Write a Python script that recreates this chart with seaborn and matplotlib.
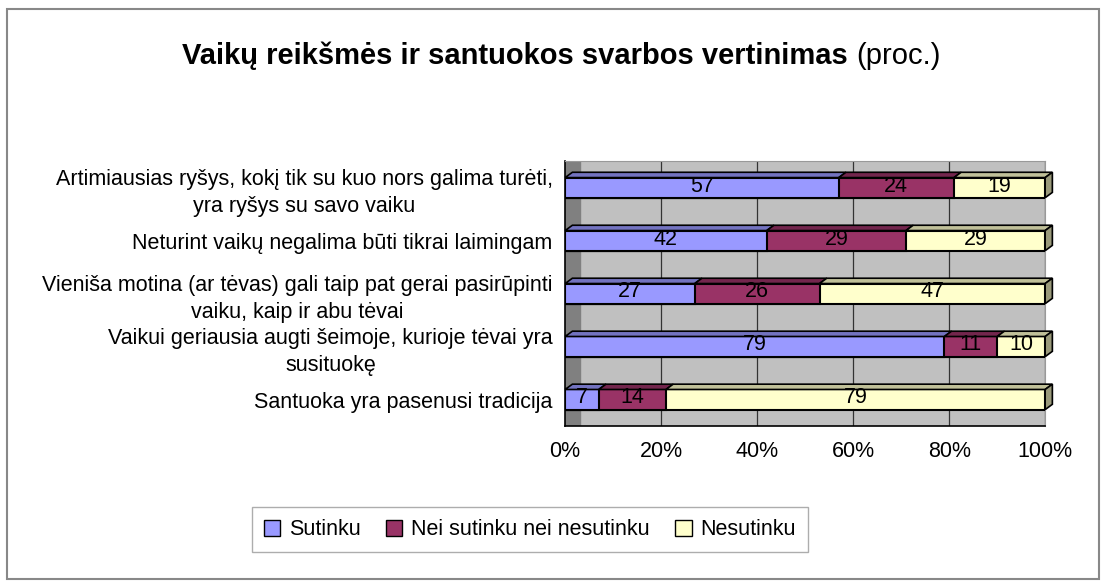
import pandas as pd
import matplotlib.pyplot as plt
import matplotlib.patches as mpatches
import seaborn as sns

statements = [
    "Artimiausias ryšys, kokį tik su kuo nors galima turėti,\nyra ryšys su savo vaiku",
    "Neturint vaikų negalima būti tikrai laimingam",
    "Vieniša motina (ar tėvas) gali taip pat gerai pasirūpinti\nvaiku, kaip ir abu tėvai",
    "Vaikui geriausia augti šeimoje, kurioje tėvai yra\nsusituokę",
    "Santuoka yra pasenusi tradicija",
]
sutinku = [57, 42, 27, 79, 7]
nei = [24, 29, 26, 11, 14]
nesutinku = [19, 29, 47, 10, 79]
series_names = ["Sutinku", "Nei sutinku nei nesutinku", "Nesutinku"]
colors = ["#9999FF", "#993366", "#FFFFCC"]
top_colors = ["#7373C0", "#73264D", "#C0C099"]
xticks = [0, 20, 40, 60, 80, 100]

df = pd.DataFrame({"statement": statements, "Sutinku": sutinku,
                   "Nei": nei, "Nesutinku": nesutinku})
df["c1"] = df["Sutinku"]
df["c2"] = df["Sutinku"] + df["Nei"]
df["c3"] = df["c2"] + df["Nesutinku"]

sns.set_style("white")
plt.rcParams["font.family"] = ["Liberation Sans", "DejaVu Sans"]
plt.rcParams["text.color"] = "black"
plt.rcParams["xtick.color"] = "black"
plt.rcParams["ytick.color"] = "black"

fs = 15.5
bar_h = 0.38
dx, dy = 1.5, 0.1  # fake 3d depth

fig = plt.figure(figsize=(11.06, 5.86), dpi=100)
ax = fig.add_axes([0.511, 0.273, 0.434, 0.452])
ax.set_facecolor("#C0C0C0")
ax.axvspan(0, 3, color="#808080", zorder=1)

# stacked bars: draw cumulative totals, largest first
for col, color in zip(["c3", "c2", "c1"], colors[::-1]):
    sns.barplot(data=df, y="statement", x=col, color=color, orient="h",
                width=bar_h, saturation=1, edgecolor="black", linewidth=1.5,
                ax=ax, zorder=3)

# top and side faces + value labels
for i, row in df.iterrows():
    starts = [0, row["c1"], row["c2"]]
    vals = [row["Sutinku"], row["Nei"], row["Nesutinku"]]
    top = i - bar_h / 2
    for s, v, tc in zip(starts, vals, top_colors):
        poly = mpatches.Polygon([(s, top), (s + v, top), (s + v + dx, top - dy),
                                 (s + dx, top - dy)], closed=True, facecolor=tc,
                                edgecolor="black", linewidth=1.2, zorder=3,
                                clip_on=False)
        ax.add_patch(poly)
    end = row["c3"]
    side = mpatches.Polygon([(end, top), (end + dx, top - dy),
                             (end + dx, i + bar_h / 2 - dy), (end, i + bar_h / 2)],
                            closed=True, facecolor="#99997A", edgecolor="black",
                            linewidth=1.2, zorder=3, clip_on=False)
    ax.add_patch(side)
    for s, v in zip(starts, vals):
        ax.text(s + v / 2, i - 0.03, str(v), ha="center", va="center",
                fontsize=fs, color="black", zorder=4)

ax.set_xlim(0, 100)
ax.set_ylim(4.5, -0.5)
ax.set_xticks(xticks)
ax.set_xticklabels([f"{t}%" for t in xticks], fontsize=fs)
ax.set_yticks(range(len(statements)))
ax.set_yticklabels(statements, fontsize=fs, multialignment="center",
                   linespacing=1.35)
ax.set_yticks([i - 0.5 for i in range(len(statements) + 1)], minor=True)
ax.tick_params(axis="y", which="major", length=0, pad=9)
ax.tick_params(axis="y", which="minor", length=6, color="black")
ax.tick_params(axis="x", length=5, color="black", pad=6)
ax.grid(axis="x", color="#333333", linewidth=0.9, zorder=0)
ax.set_axisbelow(True)
ax.set_xlabel("")
ax.set_ylabel("")
for side_name in ["top", "right"]:
    ax.spines[side_name].set_color("#999999")
for side_name in ["left", "bottom"]:
    ax.spines[side_name].set_color("black")
    ax.spines[side_name].set_linewidth(1.2)

t1 = fig.text(0.165, 0.905, "Vaikų reikšmės ir santuokos svarbos vertinimas",
              fontsize=21, fontweight="bold", ha="left", va="center")
fig.canvas.draw()
bb = t1.get_window_extent()
fig.text((bb.x1 + 8) / fig.bbox.width, 0.905, "(proc.)", fontsize=21,
         ha="left", va="center")

handles = [mpatches.Patch(facecolor=c, edgecolor="black", label=n)
           for c, n in zip(colors, series_names)]
fig.legend(handles=handles, loc="center", bbox_to_anchor=(0.479, 0.096),
           ncol=3, fontsize=fs, frameon=True, fancybox=False,
           edgecolor="#999999", handlelength=0.75, handleheight=0.75,
           handletextpad=0.4, columnspacing=1.2, borderpad=0.55)

fig.patches.append(mpatches.Rectangle((0.006, 0.012), 0.988, 0.972,
                                      transform=fig.transFigure, fill=False,
                                      edgecolor="#888888", linewidth=1.5))

fig.savefig("out.png", dpi=100)
